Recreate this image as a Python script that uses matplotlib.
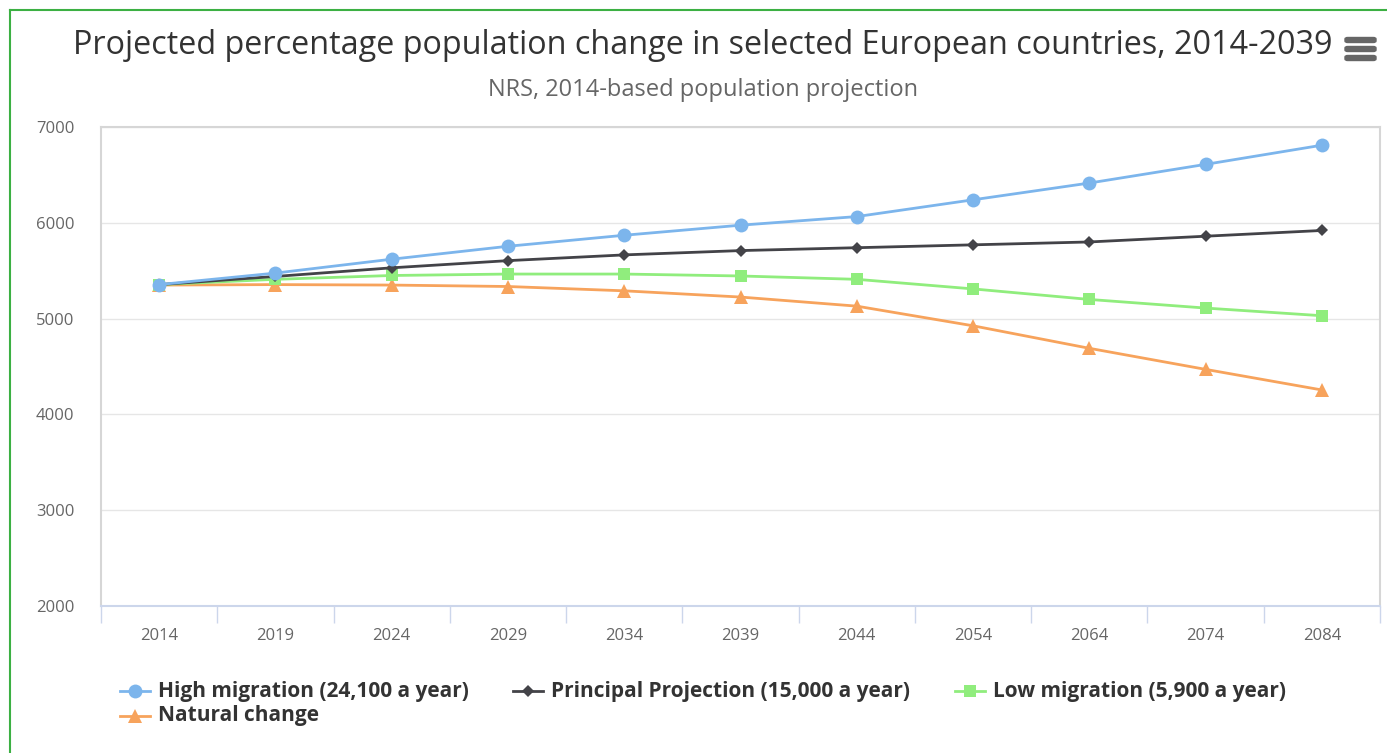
#!/usr/bin/env python3
# -*- coding: utf-8 -*-
"""
Projected population under NRS 2014-based scenarios, drawn highcharts style
"""

import matplotlib
matplotlib.use("Agg")
import matplotlib.pyplot as plt
import matplotlib.patches as mpatches
import matplotlib.lines as mlines

years = ["2014", "2019", "2024", "2029", "2034", "2039", "2044", "2054", "2064", "2074", "2084"]

high_migration = [5355, 5475, 5620, 5755, 5870, 5975, 6065, 6240, 6415, 6610, 6810]
principal      = [5355, 5440, 5530, 5605, 5665, 5710, 5740, 5770, 5800, 5860, 5920]
low_migration  = [5355, 5410, 5450, 5465, 5465, 5445, 5410, 5310, 5200, 5110, 5030]
natural_change = [5350, 5355, 5350, 5335, 5290, 5225, 5130, 4925, 4690, 4470, 4255]

series_names = ["High migration (24,100 a year)", "Principal Projection (15,000 a year)",
                "Low migration (5,900 a year)", "Natural change"]

y_ticks = [2000, 3000, 4000, 5000, 6000, 7000]

W, H = 1387, 753
fig = plt.figure(figsize=(W / 100, H / 100), dpi=100)
plt.rcParams['font.family'] = ['Open Sans', 'DejaVu Sans']

def px(xp, yp):
    """pixel position (from top left) to figure fraction"""
    return xp / W, 1 - yp / H

# plot area in pixels: x 101..1380, y 127..606
ax = fig.add_axes([101 / W, 1 - 606 / H, (1380 - 101) / W, (606 - 127) / H])

styles = [
    dict(color="#7cb5ec", marker="o", ms=10),
    dict(color="#434348", marker="D", ms=6.5),
    dict(color="#90ed7d", marker="s", ms=9),
    dict(color="#f7a35c", marker="^", ms=9.5),
]
data = [high_migration, principal, low_migration, natural_change]
x = list(range(len(years)))
# draw back to front so the first series sits on top
for vals, name, st in reversed(list(zip(data, series_names, styles))):
    ax.plot(x, vals, color=st["color"], lw=2, marker=st["marker"],
            ms=st["ms"], mew=0, label=name, zorder=3)

ax.set_xlim(-0.5, len(years) - 0.5)
ax.set_ylim(2000, 7000)
ax.set_yticks(y_ticks)
ax.set_yticklabels([str(v) for v in y_ticks])
ax.set_xticks(x)
ax.set_xticklabels(years)
ax.set_xticks([i - 0.5 for i in range(len(years) + 1)], minor=True)
ax.grid(axis="y", color="#e6e6e6", lw=1)
ax.set_axisbelow(True)
ax.tick_params(axis="x", which="major", length=0, pad=16, labelsize=12, labelcolor="#666666")
ax.tick_params(axis="x", which="minor", length=12, color="#ccd6eb", width=1)
ax.tick_params(axis="y", length=0, pad=19, labelsize=12, labelcolor="#666666")
for s in ["left", "top", "right"]:
    ax.spines[s].set_color("#d6d6d6")
    ax.spines[s].set_linewidth(1.5)
ax.spines["bottom"].set_color("#ccd6eb")
ax.spines["bottom"].set_linewidth(1.5)

fig.text(*px(703, 45), "Projected percentage population change in selected European countries, 2014-2039",
         ha="center", va="center", fontsize=23.3, color="#333333")
fig.text(*px(703, 90), "NRS, 2014-based population projection",
         ha="center", va="center", fontsize=17, color="#666666")

# menu icon
for yy in [40, 49, 58]:
    fig.patches.append(mpatches.FancyBboxPatch(px(1345, yy + 2.5), 31 / W, 5 / H,
                                               boxstyle="round,pad=0,rounding_size=0.002",
                                               transform=fig.transFigure, color="#666666"))

# green frame of the page
fig.add_artist(mlines.Line2D([10 / W, 10 / W], [0, 1 - 10 / H], color="#3cb043", lw=1.5,
                             transform=fig.transFigure))
fig.add_artist(mlines.Line2D([10 / W, 1], [1 - 10 / H, 1 - 10 / H], color="#3cb043", lw=1.5,
                             transform=fig.transFigure))

# legend, laid out like the highcharts one (rows fill left to right)
legend_pos = [(120, 691), (513, 691), (955, 691), (120, 716)]
for (lx, ly), name, st in zip(legend_pos, series_names, styles):
    x0, y0 = px(lx, ly)
    x1, _ = px(lx + 30, ly)
    fig.add_artist(mlines.Line2D([x0, x1], [y0, y0], color=st["color"], lw=2,
                                 transform=fig.transFigure))
    fig.add_artist(mlines.Line2D([(x0 + x1) / 2], [y0], color=st["color"], marker=st["marker"],
                                 ms=st["ms"], mew=0, transform=fig.transFigure))
    fig.text(*px(lx + 38, ly), name, ha="left", va="center", fontsize=15,
             fontweight="bold", color="#333333")

fig.savefig("out.png", dpi=100)
